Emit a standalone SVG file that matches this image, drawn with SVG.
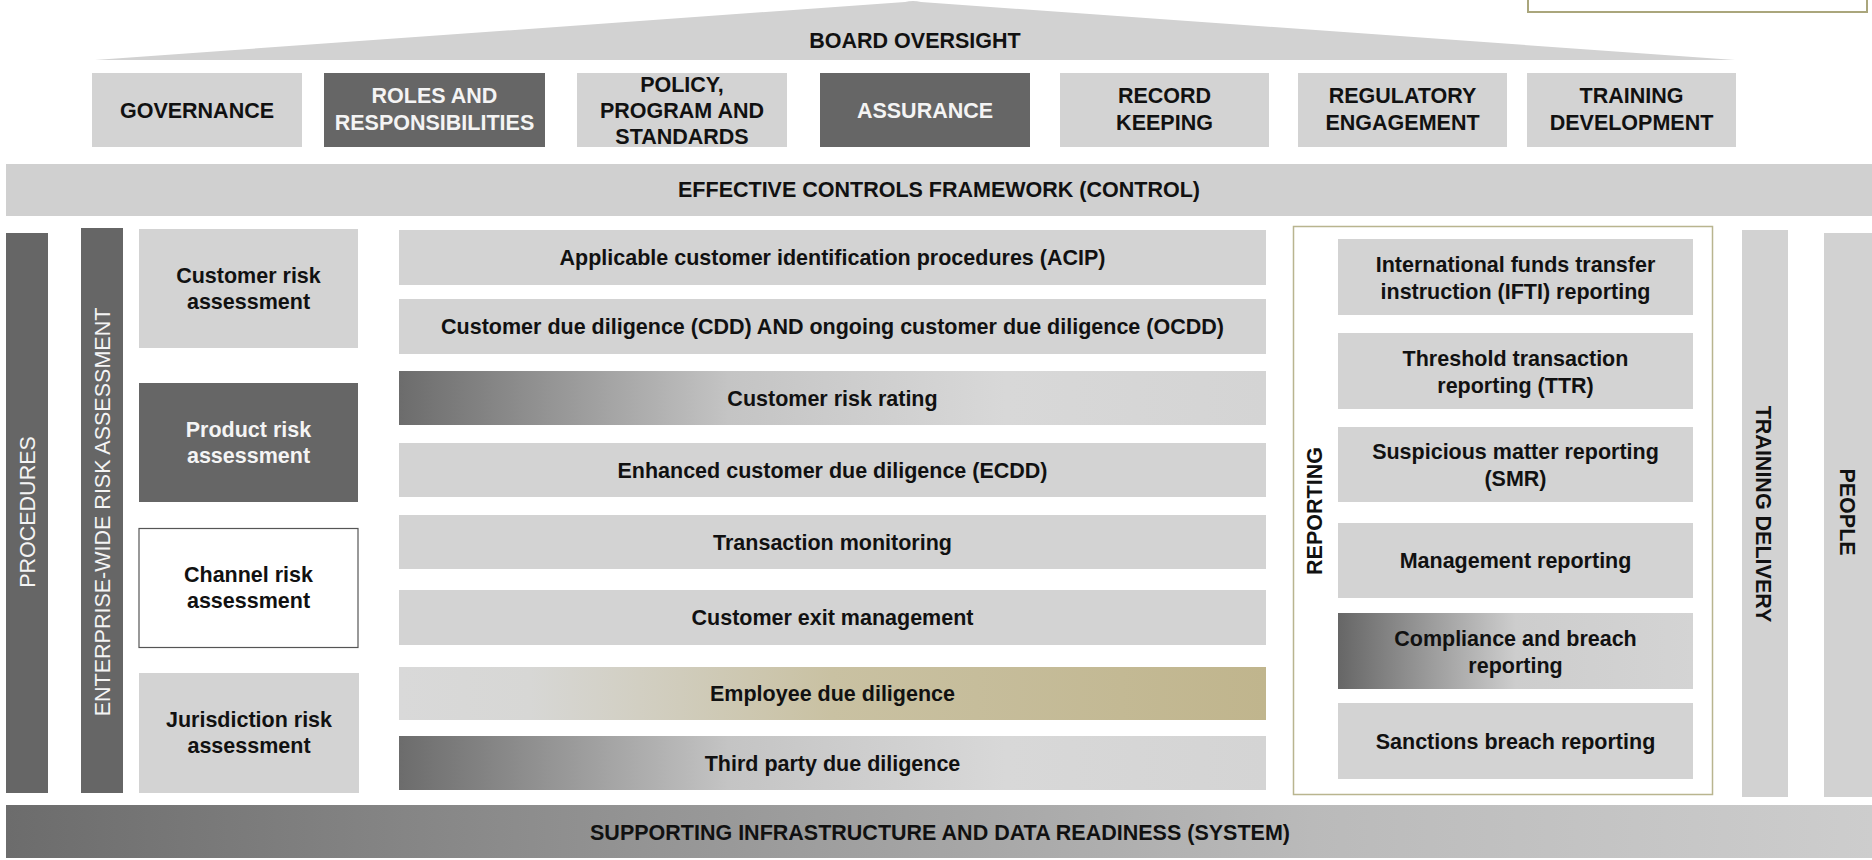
<svg xmlns="http://www.w3.org/2000/svg" width="1872" height="860" viewBox="0 0 1872 860">
<defs>
<style>
text{font-family:"Liberation Sans",Arial,Helvetica,sans-serif;font-weight:bold;font-size:21.5px;text-anchor:middle;fill:#111;}
.lt{fill:#d3d3d3;}
.dk{fill:#666666;}
.wt{fill:#f4f4f4;}
.vt{fill:#f4f4f4;font-weight:normal;}
</style>
<linearGradient id="gDark" x1="0" y1="0" x2="1" y2="0">
<stop offset="0" stop-color="#6c6c6c"/>
<stop offset="0.38" stop-color="#c4c4c4"/>
<stop offset="0.7" stop-color="#d8d8d8"/>
<stop offset="1" stop-color="#d4d4d4"/>
</linearGradient>
<linearGradient id="gKhaki" x1="0" y1="0" x2="1" y2="0">
<stop offset="0" stop-color="#d9d9d9"/>
<stop offset="0.15" stop-color="#d7d7d5"/>
<stop offset="0.5" stop-color="#c9c1a2"/>
<stop offset="1" stop-color="#c0b58d"/>
</linearGradient>
<linearGradient id="gComp" x1="0" y1="0" x2="1" y2="0">
<stop offset="0" stop-color="#666666"/>
<stop offset="0.5" stop-color="#cdcdcd"/>
<stop offset="1" stop-color="#d4d4d4"/>
</linearGradient>
<linearGradient id="gSys" x1="0" y1="0" x2="1" y2="0">
<stop offset="0" stop-color="#6c6c6c"/>
<stop offset="0.35" stop-color="#959595"/>
<stop offset="0.7" stop-color="#bababa"/>
<stop offset="1" stop-color="#cdcdcd"/>
</linearGradient>
</defs>
<rect width="1872" height="860" fill="#ffffff"/>

<g id="legend-box"><rect x="1528" y="-10" width="339" height="22" fill="#ffffff" stroke="#aaa67c" stroke-width="2"/></g>

<g id="board-oversight">
<path d="M95,60 L905,2 Q913,0 921,2 L1735,60 Z" fill="#d2d2d2"/>
<text x="915" y="48">BOARD OVERSIGHT</text>
</g>

<g id="governance"><rect class="lt" x="92" y="73" width="210" height="74"/><text x="197" y="118">GOVERNANCE</text></g>
<g id="roles"><rect class="dk" x="324" y="73" width="221" height="74"/><text class="wt" x="434.5" y="103">ROLES AND</text><text class="wt" x="434.5" y="130">RESPONSIBILITIES</text></g>
<g id="policy"><rect class="lt" x="577" y="73" width="210" height="74"/><text x="682" y="92">POLICY,</text><text x="682" y="118">PROGRAM AND</text><text x="682" y="144">STANDARDS</text></g>
<g id="assurance"><rect class="dk" x="820" y="73" width="210" height="74"/><text class="wt" x="925" y="118">ASSURANCE</text></g>
<g id="record-keeping"><rect class="lt" x="1060" y="73" width="209" height="74"/><text x="1164.5" y="103">RECORD</text><text x="1164.5" y="130">KEEPING</text></g>
<g id="regulatory"><rect class="lt" x="1298" y="73" width="209" height="74"/><text x="1402.5" y="103">REGULATORY</text><text x="1402.5" y="130">ENGAGEMENT</text></g>
<g id="training-development"><rect class="lt" x="1527" y="73" width="209" height="74"/><text x="1631.5" y="103">TRAINING</text><text x="1631.5" y="130">DEVELOPMENT</text></g>

<g id="effective-controls"><rect x="6" y="164" width="1866" height="52" fill="#d0d0d0"/><text x="939" y="197">EFFECTIVE CONTROLS FRAMEWORK (CONTROL)</text></g>

<g id="procedures"><rect class="dk" x="6" y="233" width="42" height="560"/><text class="vt" transform="translate(35,512) rotate(-90)">PROCEDURES</text></g>
<g id="enterprise-risk"><rect class="dk" x="81" y="228" width="42" height="565"/><text class="vt" transform="translate(110,512) rotate(-90)">ENTERPRISE-WIDE RISK ASSESSMENT</text></g>

<g id="customer-risk"><rect class="lt" x="139" y="229" width="219" height="119"/><text x="248.5" y="283">Customer risk</text><text x="248.5" y="309">assessment</text></g>
<g id="product-risk"><rect class="dk" x="139" y="383" width="219" height="119"/><text class="wt" x="248.5" y="437">Product risk</text><text class="wt" x="248.5" y="463">assessment</text></g>
<g id="channel-risk"><rect x="139" y="528.5" width="219" height="119" fill="#ffffff" stroke="#555555" stroke-width="1.2"/><text x="248.5" y="582">Channel risk</text><text x="248.5" y="608">assessment</text></g>
<g id="jurisdiction-risk"><rect class="lt" x="139" y="673" width="220" height="120"/><text x="249" y="727">Jurisdiction risk</text><text x="249" y="753">assessment</text></g>

<g id="acip"><rect class="lt" x="399" y="230" width="867" height="55"/><text x="832.5" y="265">Applicable customer identification procedures (ACIP)</text></g>
<g id="cdd"><rect class="lt" x="399" y="299" width="867" height="55"/><text x="832.5" y="334">Customer due diligence (CDD) AND ongoing customer due diligence (OCDD)</text></g>
<g id="customer-risk-rating"><rect x="399" y="371" width="867" height="54" fill="url(#gDark)"/><text x="832.5" y="406">Customer risk rating</text></g>
<g id="ecdd"><rect class="lt" x="399" y="443" width="867" height="54" /><text x="832.5" y="478">Enhanced customer due diligence (ECDD)</text></g>
<g id="transaction-monitoring"><rect class="lt" x="399" y="515" width="867" height="54"/><text x="832.5" y="550">Transaction monitoring</text></g>
<g id="customer-exit"><rect class="lt" x="399" y="590" width="867" height="55"/><text x="832.5" y="625">Customer exit management</text></g>
<g id="employee-dd"><rect x="399" y="667" width="867" height="53" fill="url(#gKhaki)"/><text x="832.5" y="701">Employee due diligence</text></g>
<g id="third-party-dd"><rect x="399" y="736" width="867" height="54" fill="url(#gDark)"/><text x="832.5" y="771">Third party due diligence</text></g>

<g id="reporting">
<rect x="1293.5" y="226.5" width="419" height="568" fill="#ffffff" stroke="#b9b58f" stroke-width="1.5"/>
<text transform="translate(1322,511) rotate(-90)">REPORTING</text>
</g>
<g id="ifti"><rect class="lt" x="1338" y="239" width="355" height="76"/><text x="1515.5" y="271.5">International funds transfer</text><text x="1515.5" y="298.5">instruction (IFTI) reporting</text></g>
<g id="ttr"><rect class="lt" x="1338" y="333" width="355" height="76"/><text x="1515.5" y="365.5">Threshold transaction</text><text x="1515.5" y="392.5">reporting (TTR)</text></g>
<g id="smr"><rect class="lt" x="1338" y="427" width="355" height="75"/><text x="1515.5" y="459">Suspicious matter reporting</text><text x="1515.5" y="486">(SMR)</text></g>
<g id="management-reporting"><rect class="lt" x="1338" y="523" width="355" height="75"/><text x="1515.5" y="568">Management reporting</text></g>
<g id="compliance-breach"><rect x="1338" y="613" width="355" height="76" fill="url(#gComp)"/><text x="1515.5" y="645.5">Compliance and breach</text><text x="1515.5" y="672.5">reporting</text></g>
<g id="sanctions-breach"><rect class="lt" x="1338" y="703" width="355" height="76"/><text x="1515.5" y="748.5">Sanctions breach reporting</text></g>

<g id="training-delivery"><rect x="1742" y="230" width="46" height="567" fill="#d2d2d2"/><text transform="translate(1756,514) rotate(90)">TRAINING DELIVERY</text></g>
<g id="people"><rect x="1824" y="233" width="48" height="564" fill="#d2d2d2"/><text transform="translate(1840,512) rotate(90)">PEOPLE</text></g>

<g id="supporting-infrastructure"><rect x="6" y="805" width="1866" height="53" fill="url(#gSys)"/><text x="940" y="840">SUPPORTING INFRASTRUCTURE AND DATA READINESS (SYSTEM)</text></g>
</svg>
